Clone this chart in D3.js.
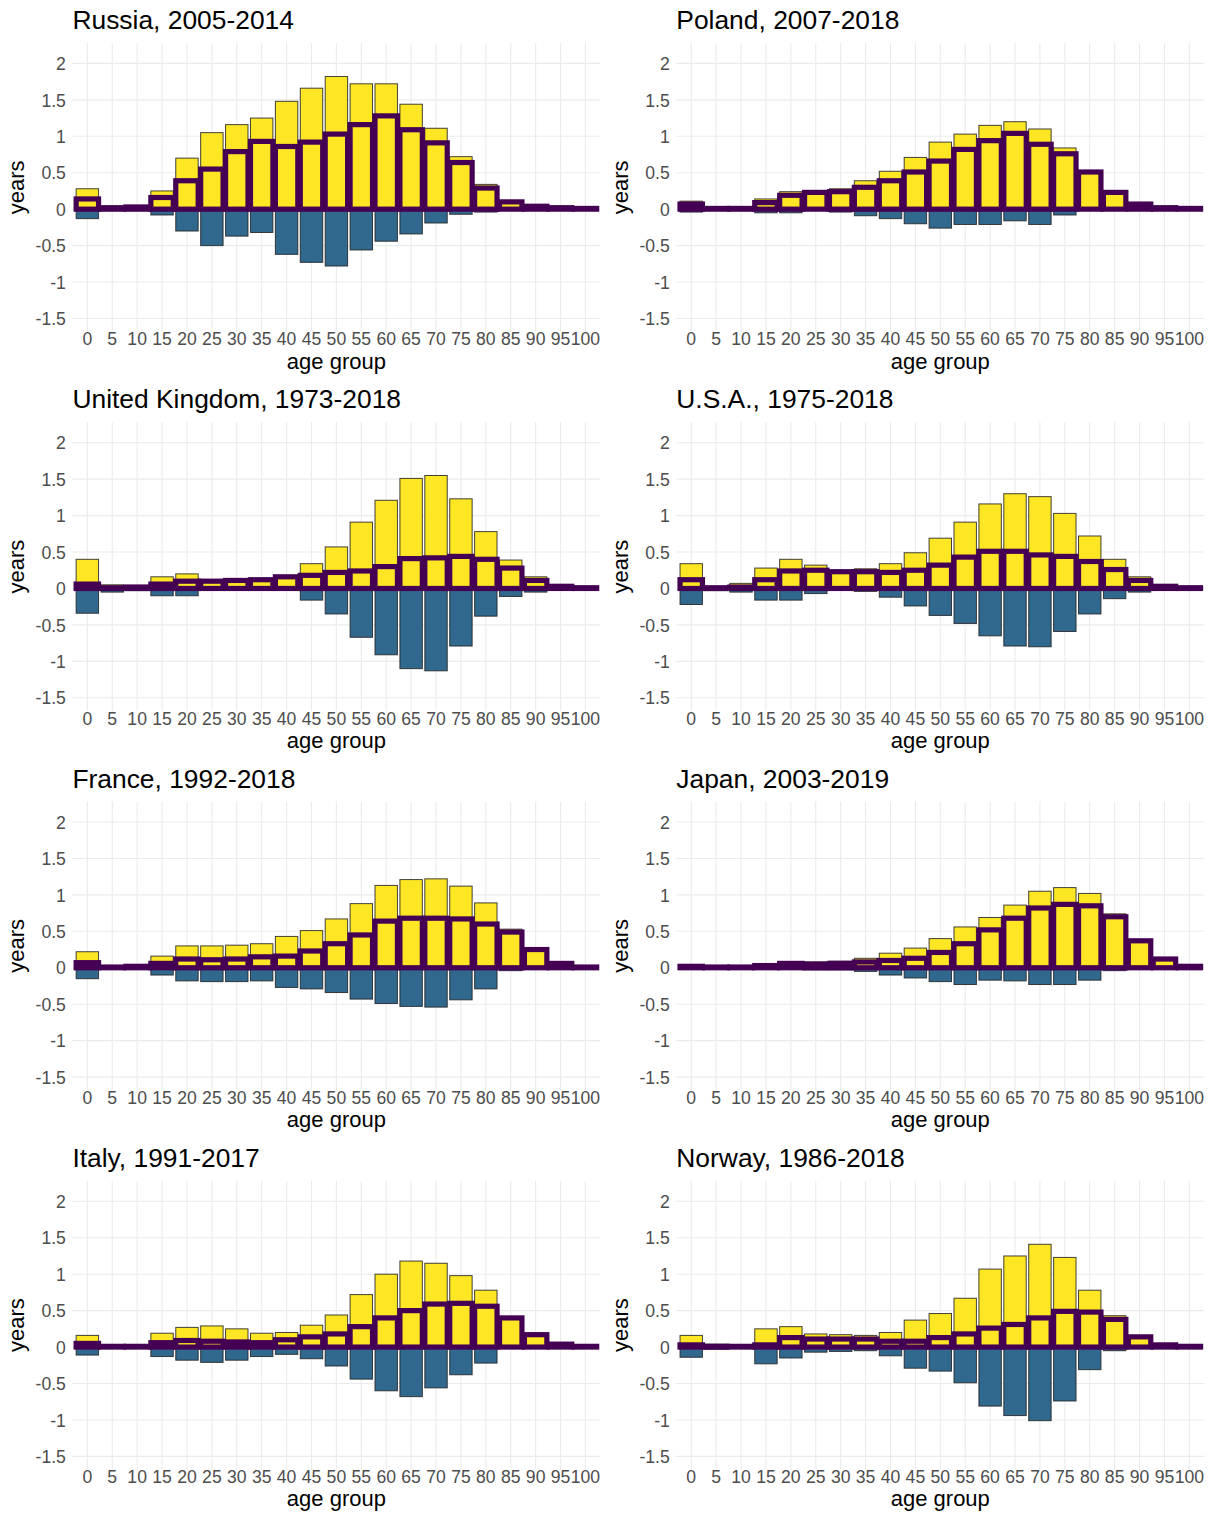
<!DOCTYPE html>
<html>
<head>
<meta charset="utf-8">
<script src="https://cdn.jsdelivr.net/npm/d3@7"></script>
<style>
  html, body { margin: 0; padding: 0; background: #fff; }
  svg { display: block; }
  text { font-family: "Liberation Sans", Arial, sans-serif; }
</style>
</head>
<body>
<svg id="chart" width="1214" height="1515"></svg>
<script>
// ---------- tick labels / categories ----------
const ageGroups = ["0","5","10","15","20","25","30","35","40","45","50","55","60","65","70","75","80","85","90","95","100"];
const yTicks = [-1.5, -1, -0.5, 0, 0.5, 1, 1.5, 2];
const yTickLabels = ["-1.5","-1","-0.5","0","0.5","1","1.5","2"];

// ---------- series values (years) ----------
const russiaPos = [0.28,0.03,0.04,0.25,0.70,1.05,1.16,1.25,1.48,1.66,1.82,1.72,1.72,1.44,1.11,0.72,0.34,0.11,0.04,0.02,0.01];
const russiaNeg = [-0.13,-0.02,-0.02,-0.08,-0.30,-0.50,-0.37,-0.32,-0.62,-0.73,-0.78,-0.56,-0.44,-0.34,-0.19,-0.07,-0.04,-0.01,0,0,0];
const russiaNet = [0.14,0.02,0.03,0.16,0.39,0.55,0.79,0.93,0.86,0.92,1.03,1.16,1.28,1.09,0.91,0.64,0.29,0.10,0.04,0.02,0.01];

const polandPos = [0.11,0.01,0.01,0.14,0.24,0.25,0.28,0.39,0.52,0.71,0.92,1.03,1.15,1.20,1.10,0.84,0.52,0.24,0.07,0.02,0.01];
const polandNeg = [-0.04,-0.01,-0.02,-0.05,-0.05,-0.01,-0.04,-0.09,-0.13,-0.20,-0.26,-0.21,-0.21,-0.16,-0.21,-0.08,-0.01,-0.01,0,0,0];
const polandNet = [0.07,0.01,0.01,0.09,0.19,0.23,0.24,0.30,0.39,0.51,0.66,0.82,0.94,1.04,0.89,0.76,0.51,0.23,0.07,0.02,0.01];

const ukPos = [0.40,0.05,0.02,0.16,0.20,0.12,0.12,0.12,0.17,0.34,0.57,0.91,1.21,1.51,1.55,1.23,0.78,0.39,0.16,0.04,0.01];
const ukNeg = [-0.34,-0.05,-0.03,-0.10,-0.10,-0.02,-0.01,0,-0.01,-0.16,-0.35,-0.67,-0.91,-1.10,-1.13,-0.79,-0.38,-0.11,-0.05,-0.01,0];
const ukNet = [0.06,0.01,0.02,0.06,0.10,0.10,0.11,0.12,0.16,0.18,0.22,0.24,0.30,0.41,0.42,0.44,0.40,0.28,0.11,0.03,0.01];

const usaPos = [0.34,0.02,0.07,0.28,0.40,0.32,0.24,0.27,0.34,0.49,0.69,0.91,1.16,1.30,1.26,1.03,0.72,0.40,0.16,0.04,0.01];
const usaNeg = [-0.22,-0.03,-0.05,-0.16,-0.16,-0.07,-0.01,-0.04,-0.12,-0.24,-0.37,-0.48,-0.65,-0.79,-0.80,-0.59,-0.35,-0.14,-0.05,-0.01,0];
const usaNet = [0.12,0.01,0.02,0.12,0.24,0.25,0.23,0.23,0.22,0.25,0.32,0.43,0.51,0.51,0.46,0.44,0.37,0.26,0.11,0.03,0.01];

const francePos = [0.22,0.01,0.02,0.16,0.30,0.30,0.31,0.33,0.43,0.51,0.67,0.88,1.13,1.21,1.22,1.12,0.89,0.53,0.26,0.07,0.01];
const franceNeg = [-0.15,-0.01,-0.02,-0.10,-0.18,-0.19,-0.19,-0.18,-0.27,-0.29,-0.34,-0.43,-0.49,-0.53,-0.54,-0.44,-0.29,-0.04,-0.01,0,0];
const franceNet = [0.07,0.01,0.02,0.06,0.12,0.11,0.12,0.15,0.16,0.23,0.33,0.45,0.64,0.68,0.68,0.67,0.60,0.49,0.25,0.06,0.01];

const japanPos = [0.03,0.01,0.01,0.04,0.07,0.08,0.09,0.13,0.20,0.27,0.40,0.56,0.69,0.86,1.05,1.10,1.02,0.74,0.38,0.12,0.02];
const japanNeg = [-0.01,0,0,-0.01,-0.01,-0.03,-0.03,-0.05,-0.10,-0.14,-0.19,-0.23,-0.17,-0.18,-0.23,-0.23,-0.17,-0.04,-0.01,0,0];
const japanNet = [0.02,0.01,0.01,0.03,0.06,0.05,0.06,0.08,0.10,0.13,0.21,0.33,0.52,0.68,0.82,0.87,0.85,0.70,0.37,0.12,0.02];

const italyPos = [0.16,0.01,0.01,0.19,0.27,0.29,0.25,0.19,0.20,0.30,0.44,0.72,1.00,1.18,1.15,0.98,0.78,0.41,0.19,0.05,0.01];
const italyNeg = [-0.11,-0.01,-0.01,-0.13,-0.18,-0.21,-0.18,-0.13,-0.10,-0.16,-0.26,-0.44,-0.60,-0.68,-0.56,-0.38,-0.22,-0.01,-0.02,-0.01,0];
const italyNet = [0.05,0.01,0.01,0.06,0.09,0.08,0.07,0.06,0.10,0.14,0.18,0.28,0.40,0.50,0.59,0.60,0.56,0.40,0.17,0.04,0.01];

const norwayPos = [0.16,0.04,0.01,0.25,0.28,0.18,0.17,0.16,0.20,0.37,0.46,0.67,1.07,1.25,1.41,1.23,0.78,0.43,0.15,0.04,0.01];
const norwayNeg = [-0.14,-0.03,-0.01,-0.23,-0.15,-0.07,-0.06,-0.05,-0.12,-0.29,-0.33,-0.49,-0.81,-0.94,-1.01,-0.74,-0.31,-0.05,-0.01,-0.01,0];
const norwayNet = [0.03,0.01,0.01,0.03,0.13,0.11,0.11,0.11,0.08,0.08,0.13,0.18,0.26,0.31,0.40,0.49,0.48,0.38,0.14,0.03,0.01];

const panelTitles = ["Russia, 2005-2014","Poland, 2007-2018","United Kingdom, 1973-2018","U.S.A., 1975-2018",
                     "France, 1992-2018","Japan, 2003-2019","Italy, 1991-2017","Norway, 1986-2018"];
const panelPos = [russiaPos, polandPos, ukPos, usaPos, francePos, japanPos, italyPos, norwayPos];
const panelNeg = [russiaNeg, polandNeg, ukNeg, usaNeg, franceNeg, japanNeg, italyNeg, norwayNeg];
const panelNet = [russiaNet, polandNet, ukNet, usaNet, franceNet, japanNet, italyNet, norwayNet];

// ---------- layout ----------
const colX0 = [72.4, 676.3];
const plotW = 528;
const rowStep = 379.3;
const plotTop = 43, plotBottom = 331.6;

const yellow = "#FDE725", blue = "#31688E", purple = "#440154";

const svg = d3.select("#chart");

panelTitles.forEach((title, i) => {
  const col = i % 2, row = Math.floor(i / 2);
  const x0 = colX0[col], dy = row * rowStep;
  const g = svg.append("g").attr("transform", `translate(0,${dy})`);

  const x = d3.scaleBand().domain(ageGroups).range([x0, x0 + plotW])
              .paddingInner(0.1).paddingOuter(0.15);
  const y = d3.scaleLinear().domain([-1.68, 2.28]).range([plotBottom, plotTop]);

  // grid
  g.append("g").selectAll("line.h").data(yTicks).join("line")
    .attr("x1", x0).attr("x2", x0 + plotW)
    .attr("y1", d => y(d)).attr("y2", d => y(d))
    .attr("stroke", "#ebebeb").attr("stroke-width", 1.1);
  g.append("g").selectAll("line.v").data(ageGroups).join("line")
    .attr("x1", d => x(d) + x.bandwidth() / 2).attr("x2", d => x(d) + x.bandwidth() / 2)
    .attr("y1", plotTop).attr("y2", plotBottom)
    .attr("stroke", "#ebebeb").attr("stroke-width", 1.1);

  const pos = panelPos[i], neg = panelNeg[i], net = panelNet[i];
  const rows = ageGroups.map((a, k) => ({ a, pos: pos[k], neg: neg[k], net: net[k] }));

  const rectFor = (sel, key) => sel
    .attr("x", d => x(d.a)).attr("width", x.bandwidth())
    .attr("y", d => y(Math.max(0, d[key])))
    .attr("height", d => Math.max(0.3, Math.abs(y(d[key]) - y(0))));

  // gains (yellow) and losses (blue)
  g.append("g").selectAll("rect").data(rows).join("rect")
    .call(rectFor, "pos")
    .attr("fill", yellow).attr("stroke", "#222").attr("stroke-width", 1).attr("stroke-opacity", 0.85);
  g.append("g").selectAll("rect").data(rows).join("rect")
    .call(rectFor, "neg")
    .attr("fill", blue).attr("stroke", "#222").attr("stroke-width", 1).attr("stroke-opacity", 0.85);
  // net (purple outline)
  g.append("g").selectAll("rect").data(rows).join("rect")
    .call(rectFor, "net")
    .attr("fill", "none").attr("stroke", purple).attr("stroke-width", 5.2);

  // axes (labels only)
  const yAxis = d3.axisLeft(y).tickValues(yTicks).tickSize(0).tickPadding(0)
                  .tickFormat((d, k) => yTickLabels[k]);
  const ya = g.append("g").attr("transform", `translate(${x0 - 6.5},0)`).call(yAxis);
  ya.select(".domain").remove();
  ya.selectAll("text").attr("fill", "#4d4d4d").attr("font-size", 17.6)
    .attr("font-family", "Liberation Sans, Arial, sans-serif").attr("dy", "0.35em");

  const xAxis = d3.axisBottom(x).tickSize(0).tickPadding(0);
  const xa = g.append("g").attr("transform", `translate(0,${plotBottom})`).call(xAxis);
  xa.select(".domain").remove();
  xa.selectAll("text").attr("fill", "#4d4d4d").attr("font-size", 17.6)
    .attr("font-family", "Liberation Sans, Arial, sans-serif").attr("y", 13.6).attr("dy", 0);

  // titles
  g.append("text").attr("x", x0).attr("y", 29).attr("font-size", 26.4).attr("fill", "#000").text(title);
  g.append("text").attr("x", x0 + plotW / 2).attr("y", 368.5).attr("text-anchor", "middle")
    .attr("font-size", 22).attr("fill", "#000").text("age group");
  g.append("text").attr("transform", `translate(${x0 - 48.5},${(plotTop + plotBottom) / 2}) rotate(-90)`)
    .attr("text-anchor", "middle").attr("font-size", 22).attr("fill", "#000").text("years");
});
</script>
</body>
</html>
